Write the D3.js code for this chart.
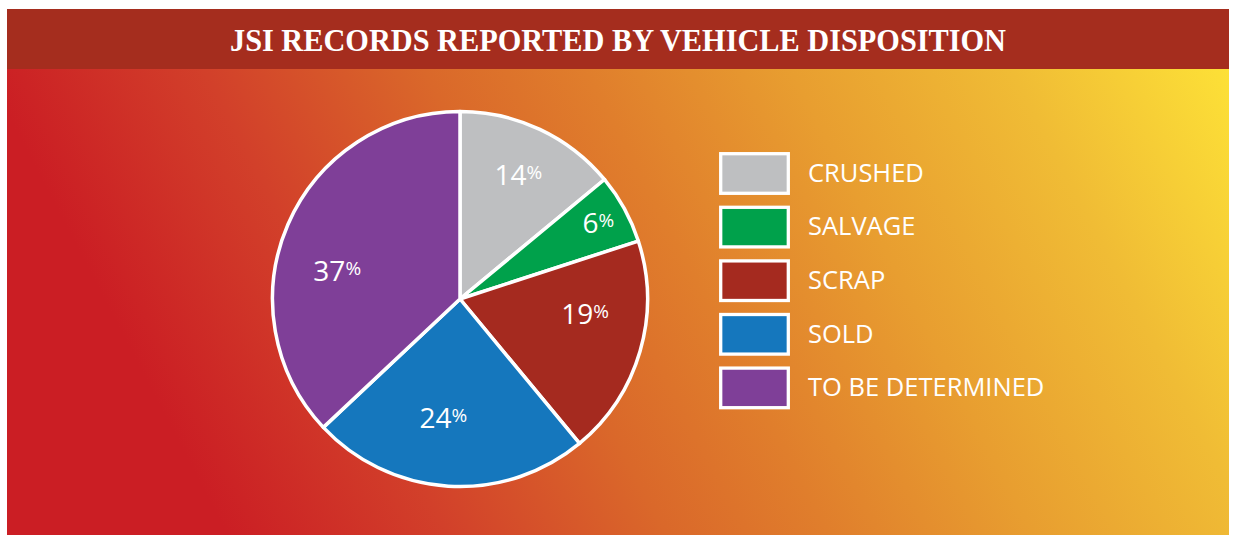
<!DOCTYPE html>
<html>
<head>
<meta charset="utf-8">
<script src="https://cdn.jsdelivr.net/npm/d3@7"></script>
<style>
  body { margin: 0; background: #fff; }
  text { font-family: "Open Sans", sans-serif; fill: #fff; }
</style>
</head>
<body>
<script>
// Chart data
var categories = ["CRUSHED", "SALVAGE", "SCRAP", "SOLD", "TO BE DETERMINED"];
var shares = [14, 6, 19, 24, 37];
var colors = ["#bebfc1", "#00a14b", "#a52a1f", "#1577bd", "#7f3f98"];
var title = "JSI RECORDS REPORTED BY VEHICLE DISPOSITION";

// label placement tweaks (radius, angle shift in degrees), one per slice
var labelRadius = [137, 158, 126, 120, 126];
var labelShift = [0, 0, -9.5, 4.4, -10.4];

var svgWidth = 1233;
var svgHeight = 536;

var svg = d3.select("body")
  .append("svg")
  .attr("width", svgWidth)
  .attr("height", svgHeight);

// background gradient, red bottom-left to yellow top-right
var defs = svg.append("defs");
var grad = defs.append("linearGradient")
  .attr("id", "bg")
  .attr("gradientUnits", "userSpaceOnUse")
  .attr("x1", 7).attr("y1", 535)
  .attr("x2", 7 + 1300 * 0.887).attr("y2", 535 - 1300 * 0.463);

[[0, "#cb1e24"], [0.15, "#cb1e24"], [0.3, "#d2402a"], [0.45, "#da682a"],
 [0.56, "#e07e2c"], [0.7, "#e89e30"], [0.85, "#f0bc35"], [1, "#fde137"]]
  .forEach(function(s) {
    grad.append("stop").attr("offset", s[0]).attr("stop-color", s[1]);
  });

svg.append("rect")
  .attr("x", 7).attr("y", 9)
  .attr("width", 1222).attr("height", 526)
  .attr("fill", "url(#bg)");

// title bar
svg.append("rect")
  .attr("x", 7).attr("y", 9)
  .attr("width", 1222).attr("height", 60)
  .attr("fill", "#a52d1e");

svg.append("text")
  .attr("x", 618).attr("y", 51)
  .attr("text-anchor", "middle")
  .attr("textLength", 776)
  .attr("lengthAdjust", "spacingAndGlyphs")
  .style("font-family", "'Liberation Serif', 'DejaVu Serif', serif")
  .style("font-weight", "bold")
  .style("font-size", "32px")
  .text(title);

// pie
var cx = 460, cy = 299, radius = 187.5;

var pie = d3.pie().sort(null).value(d => d);
var arcs = pie(shares);

var arc = d3.arc().innerRadius(0).outerRadius(radius);

var pieGroup = svg.append("g")
  .attr("transform", `translate(${cx}, ${cy})`);

pieGroup.selectAll("path")
  .data(arcs)
  .enter()
  .append("path")
  .attr("d", arc)
  .attr("fill", (d, i) => colors[i])
  .attr("stroke", "#fff")
  .attr("stroke-width", 3.5)
  .attr("stroke-linejoin", "round");

var labels = pieGroup.selectAll("text.pct")
  .data(arcs)
  .enter()
  .append("text")
  .attr("class", "pct")
  .attr("text-anchor", "middle")
  .attr("transform", function(d, i) {
    var shift = labelShift[i] * Math.PI / 180;
    var c = d3.arc()
      .innerRadius(labelRadius[i]).outerRadius(labelRadius[i])
      .startAngle(d.startAngle + shift).endAngle(d.endAngle + shift)
      .centroid();
    return `translate(${c[0]}, ${c[1] + 10})`;
  })
  .style("font-size", "28px");

labels.append("tspan").text(d => d.data);
labels.append("tspan")
  .attr("dy", -6)
  .style("font-size", "19px")
  .text("%");

// legend
var legend = svg.append("g")
  .attr("transform", "translate(720.7, 153.7)");

var rows = legend.selectAll("g")
  .data(categories)
  .enter()
  .append("g")
  .attr("transform", (d, i) => `translate(0, ${i * 53.6})`);

rows.append("rect")
  .attr("width", 67.6)
  .attr("height", 39.6)
  .attr("fill", (d, i) => colors[i])
  .attr("stroke", "#fff")
  .attr("stroke-width", 3.3);

rows.append("text")
  .attr("x", 87.3)
  .attr("y", 28)
  .style("font-size", "25.5px")
  .text(d => d);
</script>
</body>
</html>
